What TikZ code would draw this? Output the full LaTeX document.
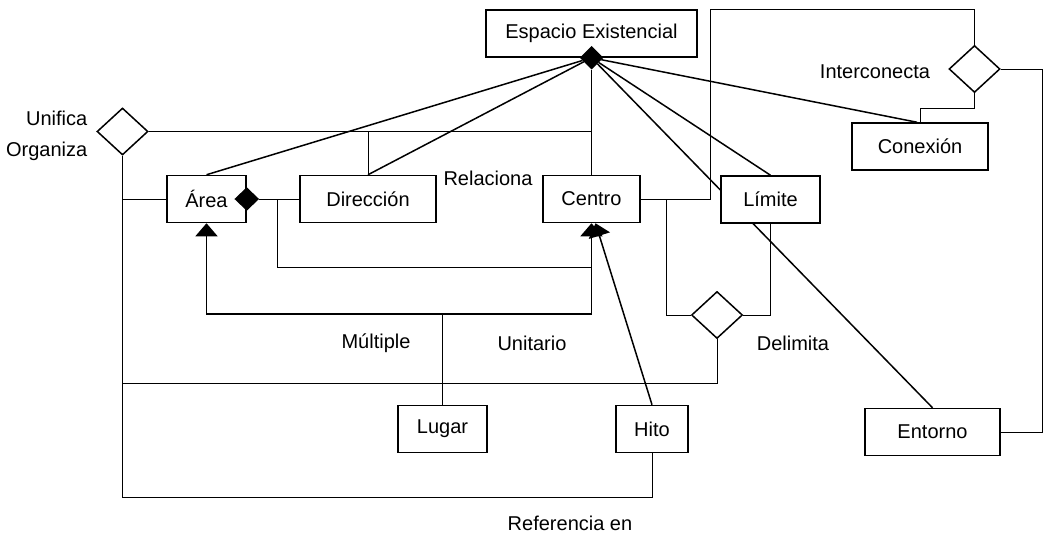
\documentclass[tikz,border=0pt]{standalone}
\usepackage{fontspec}
\setmainfont{Liberation Sans}
\usetikzlibrary{arrows.meta,shapes.geometric,backgrounds}

\begin{document}
\begin{tikzpicture}[
    x=1pt, y=-1pt, line width=1.5pt,
    concept/.style={draw, fill=white, minimum height=47pt, inner sep=2pt,
                    font=\fontsize{20}{24}\selectfont},
    rel/.style={diamond, draw, fill=white, inner sep=0pt,
                minimum width=51pt, minimum height=47pt},
    comp/.style={diamond, draw, fill=black, inner sep=0pt,
                 minimum width=22pt, minimum height=22pt},
    gen/.style={line width=1.5pt, -{Triangle[width=22pt,length=13pt]}},
    lbl/.style={font=\fontsize{20}{24}\selectfont, inner sep=0pt},
]
\useasboundingbox (0,0) rectangle (1044,535);

% Concepts
\node[concept, minimum width=211pt] (espacio) at (591.5,33.5) {Espacio Existencial};
\node[concept, minimum width=79pt] (area) at (206.5,199) {Área};
\node[concept, minimum width=136pt] (dir) at (368,199) {Dirección};
\node[concept, minimum width=97pt] (centro) at (591.5,199) {Centro};
\node[concept, minimum width=99pt] (limite) at (770.5,199.5) {Límite};
\node[concept, minimum width=136pt] (conex) at (920,146.5) {Conexión};
\node[concept, minimum width=135pt] (entorno) at (932.5,432) {Entorno};
\node[concept, minimum width=89pt] (lugar) at (442.5,429) {Lugar};
\node[concept, minimum width=72pt] (hito) at (652,429) {Hito};

% Relations
\node[rel] (unif) at (122.5,131.5) {};
\node[rel] (delim) at (717,315) {};
\node[rel] (inter) at (974.5,69) {};
\node[comp] (espd) at (espacio.south) {};
\node[comp, minimum width=23pt] (aread) at (area.east) {};

% Labels
\node[lbl, align=right, anchor=east, font=\fontsize{20}{31}\selectfont]
    (uniflbl) at (88,136) {Unifica\\Organiza};
\node[lbl] (relac) at (488,178) {Relaciona};
\node[lbl] (intlbl) at (875,72) {Interconecta};
\node[lbl] (multlbl) at (376,343) {Múltiple};
\node[lbl] (unitlbl) at (532,343) {Unitario};
\node[lbl] (delimlbl) at (793,343) {Delimita};
\node[lbl] (reflbl) at (570,523) {Referencia en};

% Espacio Existencial aggregation
\draw (espd) -- (area.north);
\draw (espd) -- (dir.north);
\draw (espd) -- (centro.north);
\draw (espd) -- (limite.north);
\draw (espd) -- ([xshift=-3pt]conex.north);
\begin{pgfonlayer}{background}
\draw[line width=1.5pt] (espd) -- (entorno.north);
\end{pgfonlayer}

% Unifica / Organiza
\coordinate (refb) at (122.5,497);
\coordinate (dlb) at (122.5,383);
\draw (unif.east) -- (unif.east -| centro.north);
\draw (dir.north) |- (unif.east);
\draw (area.west) -- (area.west -| unif.south);
\draw (unif.south) -- (refb) -| (hito.south);
\draw (delim.south) |- (dlb);

% Area composition
\coordinate (aj) at (277,199);
\coordinate (cj) at (591.5,267);
\draw (aread.east) -- (dir.west);
\draw (aj) |- (cj);

% Lugar: Multiple / Unitario
\coordinate (gj) at (442.5,314);
\draw (lugar.north) -- (gj);
\draw[gen] (gj) -| (area.south);
\draw[gen] (gj) -| (centro.south);
\draw[gen] (hito.north) -- ([xshift=4pt]centro.south);

% Delimita
\draw (delim.west) -| ([xshift=25pt]centro.east);
\draw (delim.east) -| (limite.south);

% Interconecta
\coordinate (itop) at (710,9);
\draw (centro.east) -| (itop) -| (inter.north);
\draw (inter.south) -- ++(0,15) -| (conex.north);
\draw (inter.east) -- ++(41,0) |- (entorno.east);

\end{tikzpicture}
\end{document}
